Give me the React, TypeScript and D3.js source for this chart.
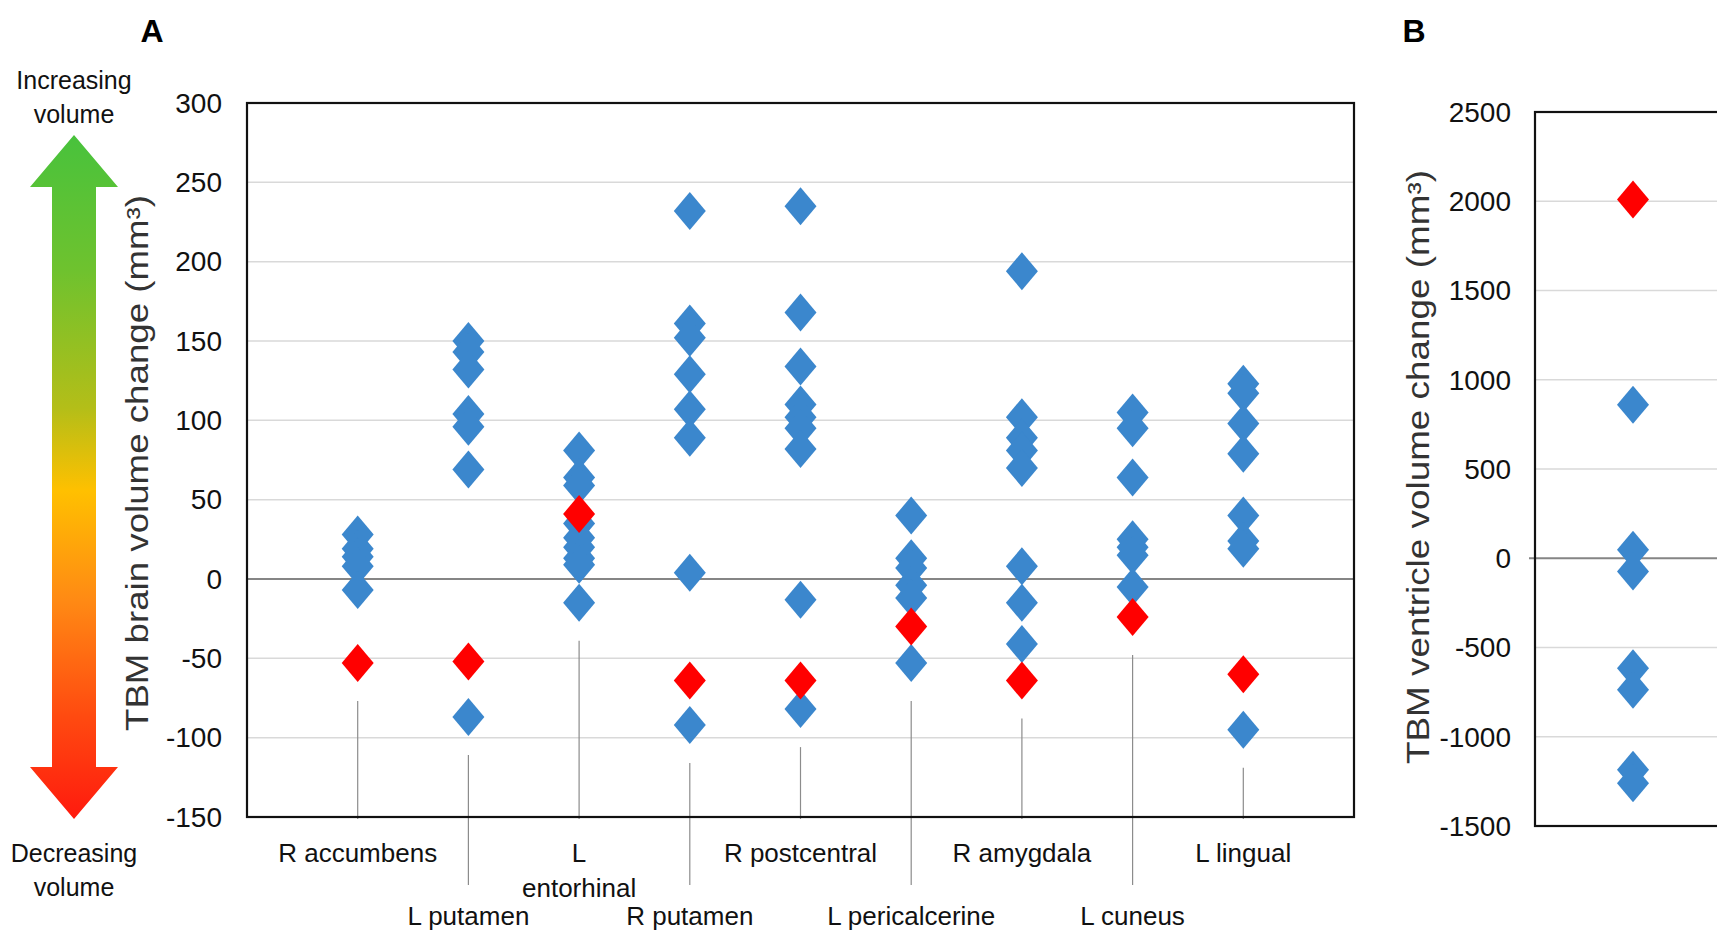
import { useEffect, useRef } from "react";
import * as d3 from "d3";

// Panel A: brain regions
const regions = [
  "R accumbens",
  "L putamen",
  "L entorhinal",
  "R putamen",
  "R postcentral",
  "L pericalcerine",
  "R amygdala",
  "L cuneus",
  "L lingual",
];
const blueA = [
  [28, 19, 14, 8, -7],
  [150, 143, 132, 104, 96, 69, -87],
  [81, 64, 59, 35, 26, 20, 13, 9, -15],
  [232, 161, 152, 129, 107, 89, 4, -92],
  [235, 168, 134, 110, 102, 95, 82, -13, -82],
  [40, 13, 7, -4, -12, -53],
  [194, 102, 89, 81, 70, 8, -15, -41],
  [105, 95, 64, 25, 20, 15, -5],
  [123, 117, 98, 79, 40, 24, 19, -95],
];
const redA = [-53, -52, 41, -64, -64, -30, -64, -24, -60];
const ticksA = [300, 250, 200, 150, 100, 50, 0, -50, -100, -150];

// Panel B: ventricles
const ventricleBlue = [860, 47, -74, -616, -737, -1185, -1260];
const ventricleRed = [2010];
const ticksB = [2500, 2000, 1500, 1000, 500, 0, -500, -1000, -1500];

const BLUE = "#3b87cd";
const RED = "#ff0000";
const FONT = "Liberation Sans, Arial, sans-serif";
const diamond = "M0,-19L16,0L0,19L-16,0Z";

const App = () => {
  const ref = useRef<SVGSVGElement>(null);

  useEffect(() => {
    document.body.style.margin = "0";
    const svg = d3.select(ref.current);
    svg.selectAll("*").remove();

    const defs = svg.append("defs");
    const grad = defs
      .append("linearGradient")
      .attr("id", "arrowGrad")
      .attr("x1", 0)
      .attr("y1", 0)
      .attr("x2", 0)
      .attr("y2", 1);
    [
      [0, "#48c23c"],
      [0.2, "#6fc22e"],
      [0.4, "#b4be18"],
      [0.52, "#ffc000"],
      [0.68, "#ff8a14"],
      [0.85, "#ff4a10"],
      [1, "#ff1a0e"],
    ].forEach(([o, c]) => grad.append("stop").attr("offset", o as number).attr("stop-color", c as string));

    // ---------- arrow ----------
    const ax = 74;
    svg
      .append("path")
      .attr(
        "d",
        `M${ax},135L${ax + 44},187L${ax + 22},187L${ax + 22},767L${ax + 44},767L${ax},819L${ax - 44},767L${ax - 22},767L${ax - 22},187L${ax - 44},187Z`
      )
      .attr("fill", "url(#arrowGrad)");
    const sideText = (lines: string[], y0: number) =>
      lines.forEach((t, i) =>
        svg
          .append("text")
          .attr("x", ax)
          .attr("y", y0 + i * 34)
          .attr("text-anchor", "middle")
          .attr("font-family", FONT)
          .attr("font-size", 25)
          .attr("fill", "#111")
          .text(t)
      );
    sideText(["Increasing", "volume"], 89);
    sideText(["Decreasing", "volume"], 862);

    // ---------- panel A ----------
    const A = { left: 247, right: 1354, top: 103, bottom: 817 };
    const x = d3.scalePoint<string>().domain(regions).range([A.left, A.right]).padding(1);
    const y = d3.scaleLinear().domain([-150, 300]).range([A.bottom, A.top]);

    const gA = svg.append("g");
    gA.selectAll(".grid")
      .data(ticksA.filter((t) => t !== 300 && t !== -150 && t !== 0))
      .join("line")
      .attr("x1", A.left)
      .attr("x2", A.right)
      .attr("y1", (d) => y(d))
      .attr("y2", (d) => y(d))
      .attr("stroke", "#d9d9d9")
      .attr("stroke-width", 1.5);

    gA.selectAll(".tick")
      .data(ticksA)
      .join("text")
      .attr("x", 222)
      .attr("y", (d) => y(d))
      .attr("dy", "0.35em")
      .attr("text-anchor", "end")
      .attr("font-family", FONT)
      .attr("font-size", 28)
      .attr("fill", "#111")
      .text((d) => d);

    // leader lines
    regions.forEach((r, i) => {
      const lo = Math.min(...blueA[i], redA[i]);
      gA.append("line")
        .attr("x1", x(r)!)
        .attr("x2", x(r)!)
        .attr("y1", y(lo) + 38)
        .attr("y2", i % 2 === 0 ? A.bottom + 2 : 885)
        .attr("stroke", "#8c8c8c")
        .attr("stroke-width", 1.2);
    });

    gA.append("line")
      .attr("x1", A.left)
      .attr("x2", A.right)
      .attr("y1", y(0))
      .attr("y2", y(0))
      .attr("stroke", "#858585")
      .attr("stroke-width", 1.8);

    regions.forEach((r, i) => {
      gA.selectAll(null)
        .data(blueA[i])
        .join("path")
        .attr("d", diamond)
        .attr("transform", (d) => `translate(${x(r)},${y(d)})`)
        .attr("fill", BLUE);
    });
    gA.selectAll(".red")
      .data(redA)
      .join("path")
      .attr("d", diamond)
      .attr("transform", (d, i) => `translate(${x(regions[i])},${y(d)})`)
      .attr("fill", RED);

    gA.append("rect")
      .attr("x", A.left)
      .attr("y", A.top)
      .attr("width", A.right - A.left)
      .attr("height", A.bottom - A.top)
      .attr("fill", "none")
      .attr("stroke", "#111")
      .attr("stroke-width", 2.2);

    // category labels
    regions.forEach((r, i) => {
      const lines = r === "L entorhinal" ? ["L", "entorhinal"] : [r];
      lines.forEach((t, j) =>
        gA.append("text")
          .attr("x", x(r)!)
          .attr("y", (i % 2 === 0 ? 862 : 925) + j * 35)
          .attr("text-anchor", "middle")
          .attr("font-family", FONT)
          .attr("font-size", 26)
          .attr("fill", "#111")
          .text(t)
      );
    });

    gA.append("text")
      .attr("transform", "translate(148,463) rotate(-90)")
      .attr("text-anchor", "middle")
      .attr("font-family", FONT)
      .attr("font-size", 31)
      .attr("fill", "#333")
      .attr("textLength", 536)
      .attr("lengthAdjust", "spacingAndGlyphs")
      .text("TBM brain volume change (mm³)");

    gA.append("text")
      .attr("x", 152)
      .attr("y", 42)
      .attr("text-anchor", "middle")
      .attr("font-family", FONT)
      .attr("font-weight", "bold")
      .attr("font-size", 32)
      .text("A");

    // ---------- panel B ----------
    const B = { left: 1535, right: 1731, top: 112, bottom: 826 };
    const xB = d3.scalePoint<string>().domain(["ventricle"]).range([B.left, B.right]).padding(0.5);
    const yB = d3.scaleLinear().domain([-1500, 2500]).range([B.bottom, B.top]);
    const gB = svg.append("g");

    gB.selectAll(".grid")
      .data(ticksB.filter((t) => t !== 2500 && t !== -1500 && t !== 0))
      .join("line")
      .attr("x1", B.left)
      .attr("x2", B.right)
      .attr("y1", (d) => yB(d))
      .attr("y2", (d) => yB(d))
      .attr("stroke", "#d9d9d9")
      .attr("stroke-width", 1.5);

    gB.selectAll(".tick")
      .data(ticksB)
      .join("text")
      .attr("x", 1511)
      .attr("y", (d) => yB(d))
      .attr("dy", "0.35em")
      .attr("text-anchor", "end")
      .attr("font-family", FONT)
      .attr("font-size", 28)
      .attr("fill", "#111")
      .text((d) => d);

    gB.append("line")
      .attr("x1", B.left - 6)
      .attr("x2", B.right)
      .attr("y1", yB(0))
      .attr("y2", yB(0))
      .attr("stroke", "#858585")
      .attr("stroke-width", 1.8);

    gB.selectAll(".blue")
      .data(ventricleBlue)
      .join("path")
      .attr("d", diamond)
      .attr("transform", (d) => `translate(${xB("ventricle")},${yB(d)})`)
      .attr("fill", BLUE);
    gB.selectAll(".red")
      .data(ventricleRed)
      .join("path")
      .attr("d", diamond)
      .attr("transform", (d) => `translate(${xB("ventricle")},${yB(d)})`)
      .attr("fill", RED);

    gB.append("rect")
      .attr("x", B.left)
      .attr("y", B.top)
      .attr("width", B.right - B.left)
      .attr("height", B.bottom - B.top)
      .attr("fill", "none")
      .attr("stroke", "#111")
      .attr("stroke-width", 2.2);

    gB.append("text")
      .attr("transform", "translate(1429,467) rotate(-90)")
      .attr("text-anchor", "middle")
      .attr("font-family", FONT)
      .attr("font-size", 31)
      .attr("fill", "#333")
      .attr("textLength", 594)
      .attr("lengthAdjust", "spacingAndGlyphs")
      .text("TBM ventricle volume change (mm³)");

    gB.append("text")
      .attr("x", 1414)
      .attr("y", 42)
      .attr("text-anchor", "middle")
      .attr("font-family", FONT)
      .attr("font-weight", "bold")
      .attr("font-size", 32)
      .text("B");
  }, []);

  return (
    <svg
      ref={ref}
      width={1717}
      height={935}
      style={{ display: "block", background: "#fff" }}
    ></svg>
  );
};

export default App;
